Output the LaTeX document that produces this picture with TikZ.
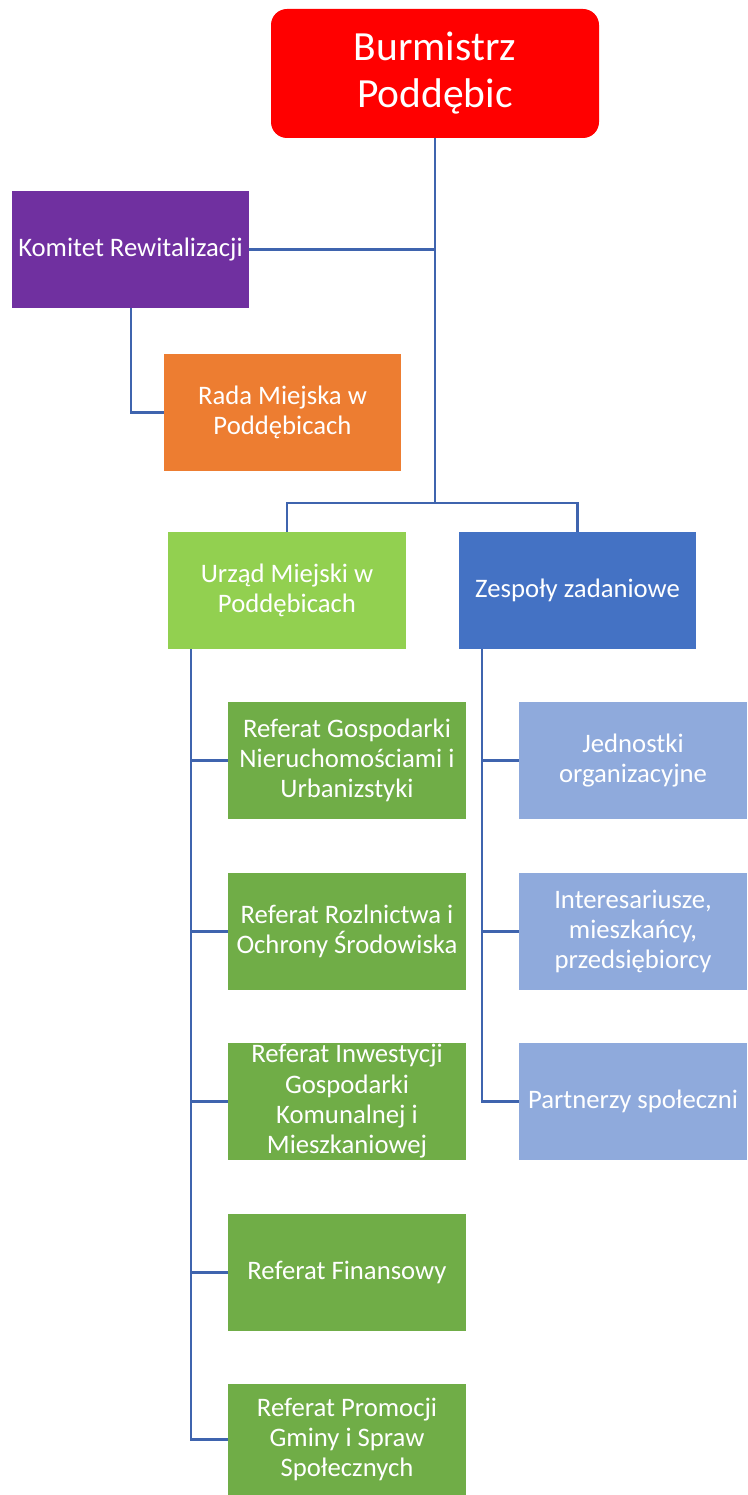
\documentclass[tikz,border=0pt]{standalone}
\usepackage{fontspec}
\setmainfont{Carlito}
\definecolor{cred}{RGB}{255,0,0}
\definecolor{cpurple}{RGB}{112,48,160}
\definecolor{corange}{RGB}{237,125,49}
\definecolor{clgreen}{RGB}{146,208,80}
\definecolor{cblue}{RGB}{68,114,196}
\definecolor{cgreen}{RGB}{112,173,71}
\definecolor{clblue}{RGB}{143,170,220}
\definecolor{cline}{RGB}{63,100,174}
\begin{document}
\begin{tikzpicture}[x=1pt,y=1pt,
  box/.style={rectangle, inner sep=0pt, text=white, align=center,
    font=\fontsize{26.7}{30.3}\selectfont},
  wide/.style={box, minimum width=238pt, minimum height=117pt},
  small/.style={box, minimum width=228pt, minimum height=117pt},
  conn/.style={draw=cline, line width=2.6pt}]
\useasboundingbox (0,0) rectangle (747,-1495);
% top
\node[box, fill=cred, rounded corners=16pt, minimum width=328pt, minimum height=129pt,
  font=\fontsize{41.5}{47}\selectfont] (bur) at (435,-73.5) {Burmistrz\\Poddębic};
\node[wide, fill=cpurple, minimum width=237pt] (kom) at (130.5,-249.5) {Komitet Rewitalizacji};
\node[wide, fill=corange, minimum width=237pt] (rada) at (282.5,-412.5) {Rada Miejska w\\Poddębicach};
\node[wide, fill=clgreen] (urz) at (287,-590.5) {Urząd Miejski w\\Poddębicach};
\node[wide, fill=cblue, minimum width=237pt] (zes) at (577.5,-590.5) {Zespoły zadaniowe};
% green column
\node[wide, fill=cgreen] (g1) at (347,-760.5) {Referat Gospodarki\\Nieruchomościami i\\Urbanizstyki};
\node[wide, fill=cgreen] (g2) at (347,-931.5) {Referat Rozlnictwa i\\Ochrony Środowiska};
\node[wide, fill=cgreen] (g3) at (347,-1101.5) {Referat Inwestycji\\Gospodarki\\Komunalnej i\\Mieszkaniowej};
\node[wide, fill=cgreen] (g4) at (347,-1272.5) {Referat Finansowy};
\node[wide, fill=cgreen, minimum height=111pt] (g5) at (347,-1439.5) {Referat Promocji\\Gminy i Spraw\\Społecznych};
% blue column
\node[small, fill=clblue] (b1) at (633,-760.5) {Jednostki\\organizacyjne};
\node[small, fill=clblue] (b2) at (633,-931.5) {Interesariusze,\\mieszkańcy,\\przedsiębiorcy};
\node[small, fill=clblue] (b3) at (633,-1101.5) {Partnerzy społeczni};
% connectors
\coordinate (j1) at (435,-503);
\coordinate (kv) at (131,-308);
\coordinate (uv) at (191,-649);
\coordinate (zv) at (482,-649);
\draw[conn] (bur.south) -- (j1);
\draw[conn] (kom.east) -- (kom.east -| bur.south);
\draw[conn] (urz.north) -- (urz.north |- j1) -- (zes.north |- j1) -- (zes.north);
\draw[conn] (kv) |- (rada.west);
\draw[conn] (uv) |- (g5.west);
\draw[conn] (uv |- g1.west) -- (g1.west);
\draw[conn] (uv |- g2.west) -- (g2.west);
\draw[conn] (uv |- g3.west) -- (g3.west);
\draw[conn] (uv |- g4.west) -- (g4.west);
\draw[conn] (zv) |- (b3.west);
\draw[conn] (zv |- b1.west) -- (b1.west);
\draw[conn] (zv |- b2.west) -- (b2.west);
\end{tikzpicture}
\end{document}
